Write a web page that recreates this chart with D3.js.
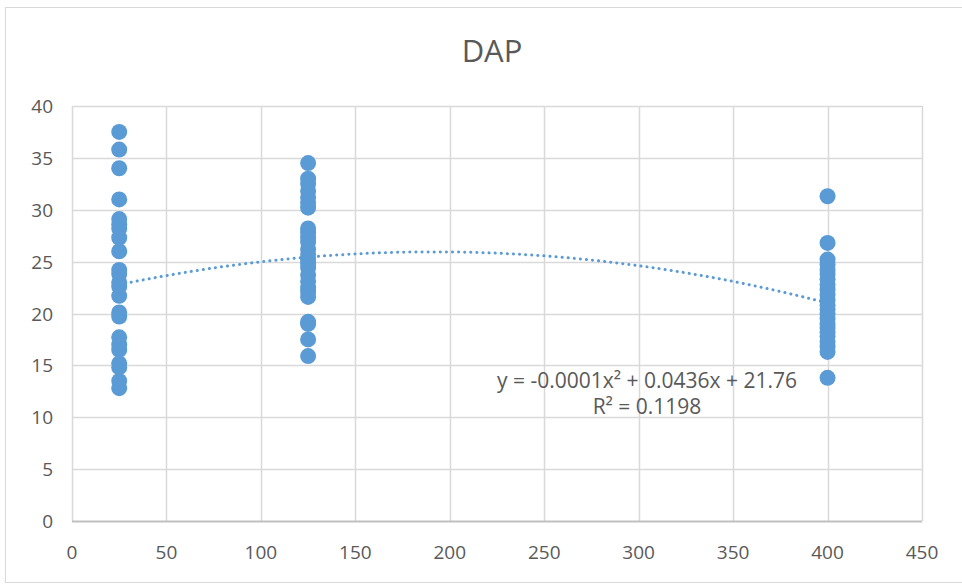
<!DOCTYPE html>
<html>
<head>
<meta charset="utf-8">
<script src="https://cdn.jsdelivr.net/npm/d3@7"></script>
<style>
  body { margin: 0; background: #fff; }
  svg { display: block; }
  text { font-family: "Open Sans", "Noto Sans", sans-serif; fill: #595959; }
</style>
</head>
<body>
<svg id="chart" width="962" height="584"></svg>
<script>
// ---- data ----
const title = "DAP";
const xTicks = [0, 50, 100, 150, 200, 250, 300, 350, 400, 450];
const yTicks = [0, 5, 10, 15, 20, 25, 30, 35, 40];
const dose25 = [37.5, 35.8, 34.0, 31.0, 29.1, 28.6, 28.2, 27.3, 26.0, 24.2, 23.8, 23.0, 22.6, 21.7, 20.1, 19.7, 17.7, 17.0, 16.5, 15.2, 14.8, 13.5, 12.8];
const dose125 = [34.5, 33.0, 32.5, 31.8, 31.2, 30.7, 30.2, 28.2, 27.8, 27.3, 26.9, 26.2, 25.7, 25.2, 24.8, 24.4, 23.7, 23.1, 22.5, 22.1, 21.6, 19.2, 19.0, 17.5, 15.9];
const dose400 = [31.3, 26.8, 25.2, 24.7, 24.2, 23.8, 23.3, 22.8, 22.3, 21.8, 21.3, 20.8, 20.4, 20.0, 19.5, 19.0, 18.6, 18.2, 17.8, 17.3, 16.8, 16.3, 13.8];
const doses = [25, 125, 400];
const trendCoef = [-0.0001137, 0.0436, 21.76]; // a, b, c of polynomial trendline
const trendRange = [25, 400];
const eqLabel = "y = -0.0001x² + 0.0436x + 21.76";
const r2Label = "R² = 0.1198";

// ---- layout ----
const svg = d3.select("#chart");
const plot = { left: 72, right: 922, top: 106, bottom: 521 };
const x = d3.scaleLinear().domain([0, 450]).range([plot.left, plot.right]);
const y = d3.scaleLinear().domain([0, 40]).range([plot.bottom, plot.top]);

// outer frame
svg.append("rect").attr("x", 5.5).attr("y", 7.5).attr("width", 962).attr("height", 575)
  .attr("fill", "#fff").attr("stroke", "#d9d9d9").attr("stroke-width", 1);

// title
svg.append("text").attr("x", 492).attr("y", 62).attr("text-anchor", "middle")
  .attr("font-size", 31).text(title);

// gridlines
const g = svg.append("g");
g.selectAll("line.h").data(yTicks.filter(d => d > 0)).join("line")
  .attr("x1", plot.left).attr("x2", plot.right)
  .attr("y1", d => Math.round(y(d)) + 0.5).attr("y2", d => Math.round(y(d)) + 0.5)
  .attr("stroke", "#d9d9d9").attr("stroke-width", 1.5);
g.selectAll("line.v").data(xTicks).join("line")
  .attr("y1", plot.top).attr("y2", plot.bottom)
  .attr("x1", d => Math.round(x(d)) + 0.5).attr("x2", d => Math.round(x(d)) + 0.5)
  .attr("stroke", "#d9d9d9").attr("stroke-width", 1.5);

// x axis line
svg.append("line").attr("x1", plot.left).attr("x2", plot.right)
  .attr("y1", y(0) + 0.5).attr("y2", y(0) + 0.5)
  .attr("stroke", "#bfbfbf").attr("stroke-width", 2);

// tick labels
svg.append("g").selectAll("text").data(yTicks).join("text")
  .attr("x", 53).attr("y", d => y(d) + 7).attr("text-anchor", "end")
  .attr("font-size", 19).text(d => d);
svg.append("g").selectAll("text").data(xTicks).join("text")
  .attr("x", d => x(d)).attr("y", 559).attr("text-anchor", "middle")
  .attr("font-size", 19).text(d => d);

// points
const pts = [];
[dose25, dose125, dose400].forEach((arr, i) => arr.forEach(v => pts.push([doses[i], v])));
svg.append("g").selectAll("circle").data(pts).join("circle")
  .attr("cx", d => x(d[0])).attr("cy", d => y(d[1])).attr("r", 8)
  .attr("fill", "#5b9bd5");

// trendline
const poly = t => trendCoef[0] * t * t + trendCoef[1] * t + trendCoef[2];
const tx = d3.range(trendRange[0], trendRange[1] + 0.001, 2.5);
svg.append("path").datum(tx)
  .attr("d", d3.line().x(t => x(t)).y(t => y(poly(t))))
  .attr("fill", "none").attr("stroke", "#5b9bd5").attr("stroke-width", 3)
  .attr("stroke-dasharray", "0.1,6").attr("stroke-linecap", "round");

// equation labels
svg.append("text").attr("x", 647).attr("y", 388).attr("text-anchor", "middle")
  .attr("font-size", 21).text(eqLabel);
svg.append("text").attr("x", 647).attr("y", 414).attr("text-anchor", "middle")
  .attr("font-size", 21).text(r2Label);
</script>
</body>
</html>
